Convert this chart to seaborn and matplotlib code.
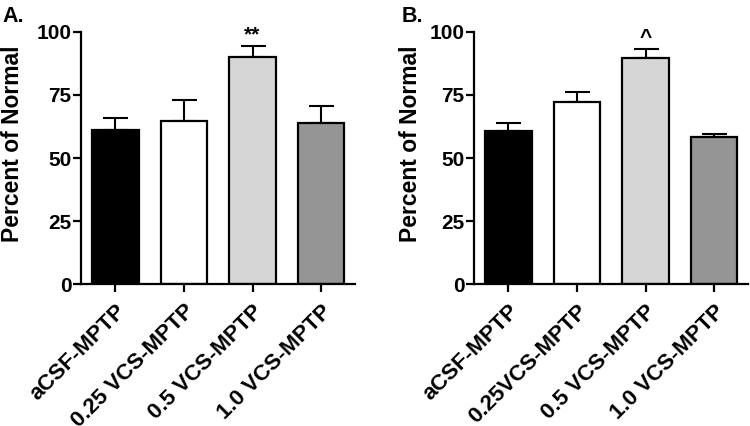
import matplotlib
matplotlib.use("Agg")
import matplotlib.pyplot as plt
import seaborn as sns
import pandas as pd

sns.set_theme(style="ticks")
plt.rcParams['font.family'] = ['Liberation Sans', 'DejaVu Sans']
plt.rcParams['font.weight'] = 'bold'
plt.rcParams['text.color'] = 'black'
plt.rcParams['axes.labelcolor'] = 'black'
plt.rcParams['xtick.color'] = 'black'
plt.rcParams['ytick.color'] = 'black'

FAM = ['Liberation Sans', 'DejaVu Sans']

cats_A = ["aCSF-MPTP", "0.25 VCS-MPTP", "0.5 VCS-MPTP", "1.0 VCS-MPTP"]
cats_B = ["aCSF-MPTP", "0.25VCS-MPTP", "0.5 VCS-MPTP", "1.0 VCS-MPTP"]
mean_A = [61.1, 64.8, 90.1, 64.0]
sem_A = [4.6, 8.4, 4.5, 6.6]
mean_B = [60.6, 72.1, 89.7, 58.5]
sem_B = [3.3, 4.1, 3.6, 0.9]
colors = ["#000000", "#ffffff", "#d6d6d6", "#959595"]
yticks = [0, 25, 50, 75, 100]
sig_A = "**"
sig_B = "^"
panel_labels = ["A.", "B."]

fig = plt.figure(figsize=(7.5, 4.26), dpi=100)
axA = fig.add_axes([0.108, 0.333, 0.365, 0.592])
axB = fig.add_axes([0.632, 0.333, 0.365, 0.592])

for ax, cats, means, sems, sig, lx in [
    (axA, cats_A, mean_A, sem_A, sig_A, -0.2095),
    (axB, cats_B, mean_B, sem_B, sig_B, -0.191),
]:
    df = pd.DataFrame({"group": cats, "value": means})
    sns.barplot(data=df, x="group", y="value", hue="group", palette=colors,
                order=cats, hue_order=cats, legend=False, errorbar=None,
                edgecolor="black", linewidth=1.6, width=0.68, ax=ax,
                saturation=1)
    xs = list(range(len(cats)))
    ax.errorbar(xs, means, yerr=[[0] * len(sems), sems], fmt="none",
                ecolor="black", elinewidth=1.5, capsize=9, capthick=1.5,
                zorder=1)
    for p in ax.patches:
        p.set_zorder(2)
    ax.set_ylim(0, 100)
    ax.set_xlim(-0.5, 3.49)
    ax.set_yticks(yticks)
    ax.set_yticklabels([str(t) for t in yticks], fontsize=15,
                       fontweight="bold", family=FAM)
    ax.set_xticks(xs)
    ax.set_xticklabels(cats, rotation=45, ha="right", va="top",
                       rotation_mode="anchor", fontsize=16, fontweight="bold",
                       family=FAM)
    ax.set_xlabel("")
    ax.set_ylabel("Percent of Normal", fontsize=16.5, fontweight="bold",
                  family=FAM)
    ax.yaxis.set_label_coords(lx, 0.556)
    for s in ["top", "right"]:
        ax.spines[s].set_visible(False)
    for s in ["left", "bottom"]:
        ax.spines[s].set_linewidth(1.6)
        ax.spines[s].set_color("black")
    ax.tick_params(axis="y", direction="out", length=6, width=1.6, pad=1)
    ax.tick_params(axis="x", direction="out", length=6, width=1.6, pad=6)
    ax.annotate(sig, xy=(2, means[2] + sems[2]), xytext=(0, 1),
                textcoords="offset points", ha="center", va="bottom",
                fontsize=15, fontweight="bold", family=FAM)
    ax.patch.set_alpha(0)

fig.text(0.003, 0.962, panel_labels[0], fontsize=15.5, fontweight="bold",
         ha="left", va="center", family=FAM)
fig.text(0.535, 0.962, panel_labels[1], fontsize=15.5, fontweight="bold",
         ha="left", va="center", family=FAM)

fig.savefig("out.png", dpi=100, facecolor="white")
